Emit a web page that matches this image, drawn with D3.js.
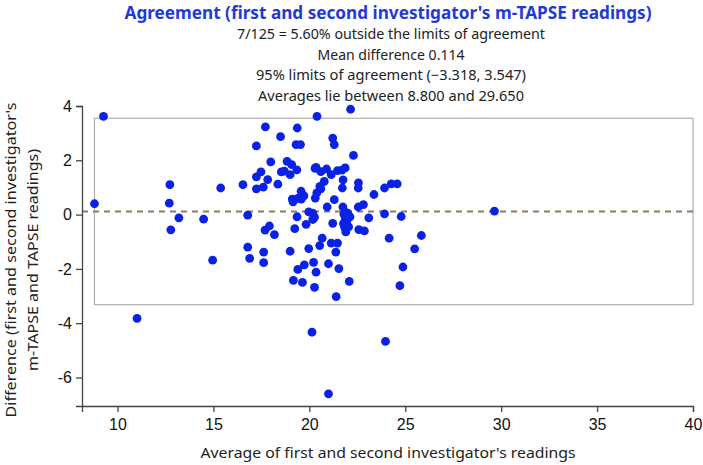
<!DOCTYPE html>
<html><head><meta charset="utf-8">
<script src="https://cdn.jsdelivr.net/npm/d3@7"></script>
<style>body{margin:0;background:#fff}svg{display:block}</style>
</head><body>
<svg id="c" width="703" height="465"></svg>
<script>
// average of two readings
const avgValues = [8.8,9.27,11.02,12.73,12.70,12.78,13.2,14.49,15.38,14.96,16.54,16.79,16.79,16.89,17.24,17.24,17.48,17.24,17.6,17.71,17.83,17.99,17.69,17.92,18.18,17.62,17.62,18.5,18.54,18.36,22.15,20.40,19.37,19.31,19.54,21.22,21.3,22.3,18.84,19.08,19.35,19.0,20.35,20.6,20.9,21.14,21.47,21.7,21.87,21.76,21.72,22.56,22.55,20.78,20.55,20.39,20.31,19.57,19.72,19.58,19.11,19.15,21.3,20.93,21.75,22.55,22.82,23.37,23.92,24.27,24.58,23.92,24.79,23.1,29.65,19.36,19.97,20.18,20.27,20.18,19.83,19.24,21.22,21.8,22.0,22.12,21.88,21.78,21.84,21.9,22.58,22.87,20.67,20.54,21.14,21.47,21.38,19.97,19.0,19.4,19.74,20.22,20.35,19.17,19.64,20.27,21.0,21.54,22.08,21.4,20.14,23.97,21.0,24.16,25.84,25.49,24.88,24.72,18.7,21.95,22.05,20.3,21.85,19.4,20.6];
// difference between the two readings
const diffValues = [0.40,3.62,-3.82,1.10,0.42,-0.56,-0.12,-0.17,0.98,-1.68,1.10,-0.02,-1.20,-1.61,2.53,1.39,1.57,0.95,1.01,3.23,1.29,1.94,-0.57,-0.42,-0.74,-1.38,-1.77,2.87,1.57,1.12,3.88,3.62,3.19,2.58,2.58,2.82,2.58,2.18,1.96,1.84,1.65,1.47,1.74,1.58,1.68,1.47,1.62,1.64,1.72,1.28,0.98,1.17,0.98,1.22,1.04,0.80,0.61,0.86,0.69,0.57,0.57,0.47,0.55,0.28,0.28,0.28,0.37,0.74,0.98,1.13,1.13,0.03,-0.07,-0.12,0.13,-0.08,0.10,0.05,-0.10,-0.18,-0.36,-0.52,-0.32,0.02,0.05,-0.08,-0.17,-0.33,-0.47,-0.64,-0.55,-0.60,-0.87,-1.14,-1.05,-1.05,-1.38,-1.25,-1.35,-2.02,-1.85,-1.76,-2.12,-2.42,-2.50,-2.68,-1.81,-1.99,-2.46,-3.02,-4.33,-4.67,-6.6,-0.87,-0.77,-1.26,-1.93,-2.62,1.60,-0.25,-0.45,1.70,0.10,0.60,0.95];
const xTicks = [10,15,20,25,30,35,40];
const yTicks = [4,2,0,-2,-4,-6];
const meanDiff = 0.114;
const limits = [-3.318, 3.547];
const avgRange = [8.8, 29.65];
const titleText = "Agreement (first and second investigator's m-TAPSE readings)";
const subLines = ["7/125 = 5.60% outside the limits of agreement","Mean difference 0.114","95% limits of agreement (\u22123.318, 3.547)","Averages lie between 8.800 and 29.650"];
const xLabel = "Average of first and second investigator's readings";
const yLabel = ["Difference (first and second investigator's","m-TAPSE and TAPSE readings)"];

const svg = d3.select("#c");
const x = d3.scaleLinear().domain([8.15, 40]).range([82, 693]);
const y = d3.scaleLinear().domain([-7.05, 4]).range([406, 106]);
const hFont = "'Noto Sans', 'Open Sans', sans-serif";

function fit(sel, w){ sel.attr("textLength", w).attr("lengthAdjust","spacingAndGlyphs"); }

svg.append("text").attr("x",388).attr("y",19).attr("text-anchor","middle")
  .attr("font-family",hFont).attr("font-weight","bold").attr("font-size",18)
  .attr("fill","#1f3ad6").text(titleText).call(fit,527);
const subW=[308,147,270,266];
subLines.forEach((s,i)=>{
  svg.append("text").attr("x",391).attr("y",39+i*20.5).attr("text-anchor","middle")
   .attr("font-family",hFont).attr("font-size",14).attr("fill","#222").text(s).call(fit,subW[i]);
});

// limits box
svg.append("rect").attr("x",x(avgRange[0])).attr("y",y(limits[1]))
  .attr("width",x(40)-x(avgRange[0])).attr("height",y(limits[0])-y(limits[1]))
  .attr("fill","none").attr("stroke","#b0b0b0").attr("stroke-width",1.2);
// mean line
svg.append("line").attr("x1",x(8.15)).attr("x2",x(40)).attr("y1",y(meanDiff)).attr("y2",y(meanDiff))
  .attr("stroke","#8e7c60").attr("stroke-width",2).attr("stroke-dasharray","6,5");

// axes
const ax = svg.append("g").attr("transform","translate(0,406)")
  .call(d3.axisBottom(x).tickValues(xTicks).tickSizeOuter(0).tickSize(6).tickPadding(7));
const ay = svg.append("g").attr("transform","translate(82,0)")
  .call(d3.axisLeft(y).tickValues(yTicks).tickSizeOuter(0).tickSize(6).tickPadding(4).tickFormat(d=>d<0?"-"+Math.abs(d):d));
[ax,ay].forEach(a=>{
  a.selectAll("path,line").attr("stroke","#444").attr("stroke-width",1.3);
  a.selectAll("text").attr("font-family","'Liberation Sans', Arial, sans-serif").attr("font-size",16).attr("fill","#111");
});

// points
svg.append("g").selectAll("circle").data(avgValues.map((v,i)=>[v,diffValues[i]])).join("circle")
  .attr("cx",d=>x(d[0])).attr("cy",d=>y(d[1])).attr("r",4.4).attr("fill","#0a22e6");

svg.append("text").attr("x",388).attr("y",458).attr("text-anchor","middle")
  .attr("font-family",hFont).attr("font-size",15).attr("fill","#222").text(xLabel).call(fit,375);
yLabel.forEach((s,i)=>{
  svg.append("text").attr("transform",`translate(${16+i*22},260) rotate(-90)`).attr("text-anchor","middle")
   .attr("font-family",hFont).attr("font-size",14.5).attr("fill","#222").text(s).call(fit,i==0?315:222);
});
</script>
</body></html>
